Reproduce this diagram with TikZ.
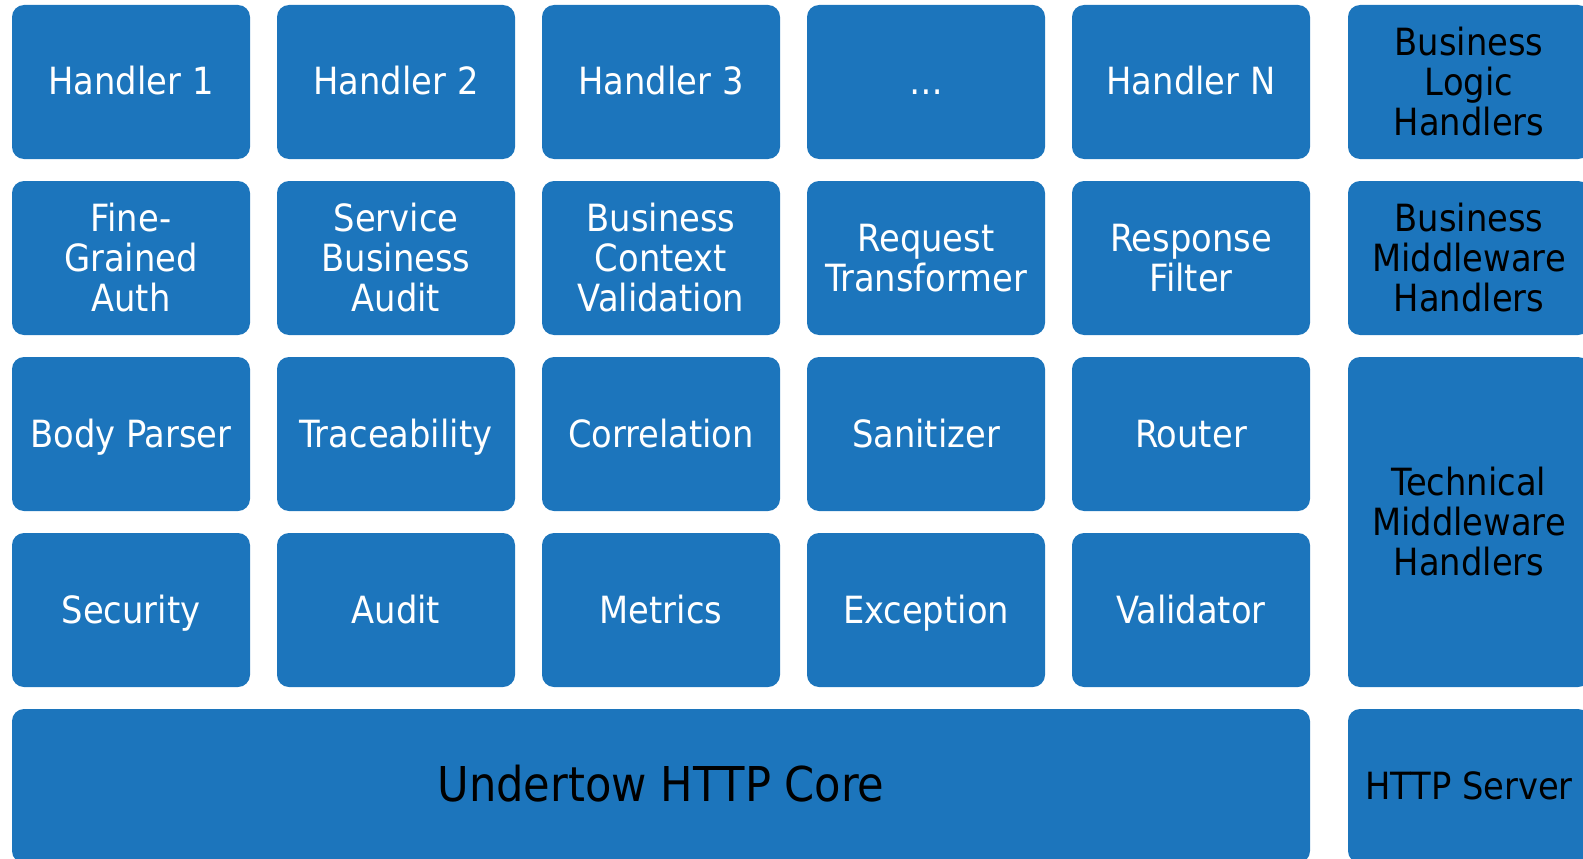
\documentclass[tikz,border=0pt]{standalone}
\usepackage{fontspec}
\setmainfont{DejaVu Sans Condensed}
\definecolor{tileblue}{RGB}{28,117,188}
\begin{document}
\begin{tikzpicture}[x=1pt,y=-1pt]
    \tikzset{stack/.style = {shape=rectangle,fill=tileblue,rounded corners=12pt,
        minimum width=238pt,minimum height=154pt,inner sep=0pt,align=center,
        text=white,font=\fontsize{37.5}{40}\selectfont}}
    \tikzset{oneline/.style = {execute at begin node={\rule{0pt}{38pt}},execute at end node=\strut}}
    \tikzset{tile/.style = {stack,oneline}}
    \tikzset{layer/.style = {stack,text=black,minimum width=242pt}}
    \useasboundingbox (0,0) rectangle (1583,859);
    % business logic handlers
    \node[tile] (h1) at (131,82) {Handler 1};
    \node[tile] (h2) at (396,82) {Handler 2};
    \node[tile] (h3) at (661,82) {Handler 3};
    \node[tile] (hdots) at (926,82) {…};
    \node[tile] (hn) at (1191,82) {Handler N};
    % business middleware
    \node[stack] (auth) at (131,258) {Fine-\\Grained\\Auth};
    \node[stack] (sbaudit) at (396,258) {Service\\Business\\Audit};
    \node[stack] (context) at (661,258) {Business\\Context\\Validation};
    \node[stack] (transformer) at (926,258) {Request\\Transformer};
    \node[stack] (filter) at (1191,258) {Response\\Filter};
    % technical middleware
    \node[tile] (body) at (131,434) {Body Parser};
    \node[tile] (trace) at (396,434) {Traceability};
    \node[tile] (correlation) at (661,434) {Correlation};
    \node[tile] (sanitizer) at (926,434) {Sanitizer};
    \node[tile] (router) at (1191,434) {Router};
    \node[tile] (security) at (131,610) {Security};
    \node[tile] (audit) at (396,610) {Audit};
    \node[tile] (metrics) at (661,610) {Metrics};
    \node[tile] (exception) at (926,610) {Exception};
    \node[tile] (validator) at (1191,610) {Validator};
    % core
    \node[stack,text=black,minimum width=1298pt,font=\fontsize{48}{54}\selectfont,
        execute at begin node={\rule{0pt}{48pt}},execute at end node=\strut]
        (core) at (661,786) {Undertow HTTP Core};
    % layer names
    \node[layer] (logic) at (1469,82) {Business\\Logic\\Handlers};
    \node[layer] (middleware) at (1469,258) {Business\\Middleware\\Handlers};
    \node[layer,minimum height=330pt] (technical) at (1469,522) {Technical\\Middleware\\Handlers};
    \node[layer,oneline] (server) at (1469,786) {HTTP Server};
\end{tikzpicture}
\end{document}
